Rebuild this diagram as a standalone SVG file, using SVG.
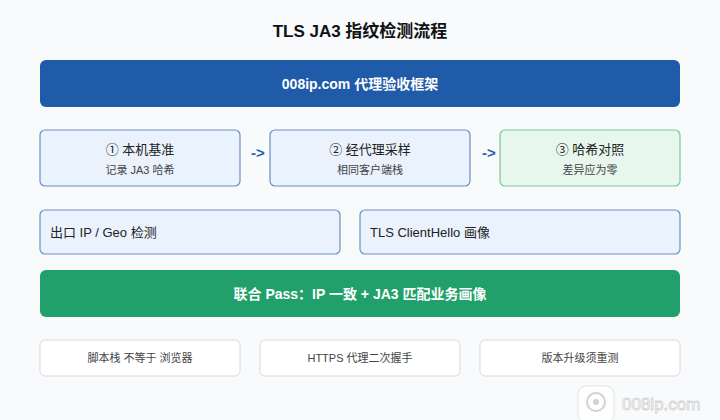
<svg xmlns="http://www.w3.org/2000/svg" width="720" height="420" viewBox="0 0 720 420">
<style>
text{font-family:"Liberation Sans","Noto Sans CJK SC",sans-serif;text-anchor:middle}
.step{fill:#eaf2fd;stroke:#6a8fc2;stroke-width:1.2}
.ok{fill:#e8f7ee;stroke:#7cc79b;stroke-width:1.2}
.note{fill:#ffffff;stroke:#d6d9de;stroke-width:1}
.t{font-size:13px;fill:#222}
.s{font-size:11px;fill:#444}
.w{font-size:14px;font-weight:bold;fill:#fff}
.arr{font-size:15px;font-weight:bold;fill:#2a62aa}
</style>
<rect width="720" height="420" fill="#f8fafc"/>
<text x="360" y="37" style="font-size:17px;font-weight:bold;fill:#111">TLS JA3 指纹检测流程</text>
<g id="header"><rect x="40" y="60" width="640" height="47" rx="6" fill="#1f5ba8"/><text x="360" y="89" class="w">008ip.com 代理验收框架</text></g>
<g id="step1"><rect class="step" x="40" y="130" width="200" height="56" rx="5"/><text x="140" y="154" class="t">① 本机基准</text><text x="140" y="174" class="s">记录 JA3 哈希</text></g>
<g id="step2"><rect class="step" x="270" y="130" width="200" height="56" rx="5"/><text x="370" y="154" class="t">② 经代理采样</text><text x="370" y="174" class="s">相同客户端栈</text></g>
<g id="step3"><rect class="ok" x="500" y="130" width="180" height="56" rx="5"/><text x="590" y="154" class="t">③ 哈希对照</text><text x="590" y="174" class="s">差异应为零</text></g>
<g id="connectors"><text x="258" y="158" class="arr">-&gt;</text><text x="489" y="158" class="arr">-&gt;</text></g>
<g id="geo"><rect class="step" x="40" y="210" width="300" height="44" rx="5"/><text x="50" y="237" class="t" style="text-anchor:start">出口 IP / Geo 检测</text></g>
<g id="hello"><rect class="step" x="360" y="210" width="320" height="44" rx="5"/><text x="370" y="237" class="t" style="text-anchor:start">TLS ClientHello 画像</text></g>
<g id="pass"><rect x="40" y="270" width="640" height="47" rx="6" fill="#22a06b"/><text x="360" y="299" class="w">联合 Pass：IP 一致 + JA3 匹配业务画像</text></g>
<g id="n1"><rect class="note" x="40" y="340" width="200" height="36" rx="5"/><text x="140" y="362" class="s">脚本栈 不等于 浏览器</text></g>
<g id="n2"><rect class="note" x="260" y="340" width="200" height="36" rx="5"/><text x="360" y="362" class="s">HTTPS 代理二次握手</text></g>
<g id="n3"><rect class="note" x="480" y="340" width="200" height="36" rx="5"/><text x="580" y="362" class="s">版本升级须重测</text></g>
<g id="watermark" opacity="0.85"><rect x="578" y="386" width="36" height="36" rx="8" fill="#fff" stroke="#e3e3e3"/><circle cx="596" cy="402" r="9" fill="none" stroke="#ccc" stroke-width="2"/><circle cx="596" cy="402" r="3" fill="#ccc"/><text x="622" y="410" style="font-size:17px;fill:#fff;stroke:#ccc;stroke-width:0.8;text-anchor:start">008ip.com</text></g>
</svg>
